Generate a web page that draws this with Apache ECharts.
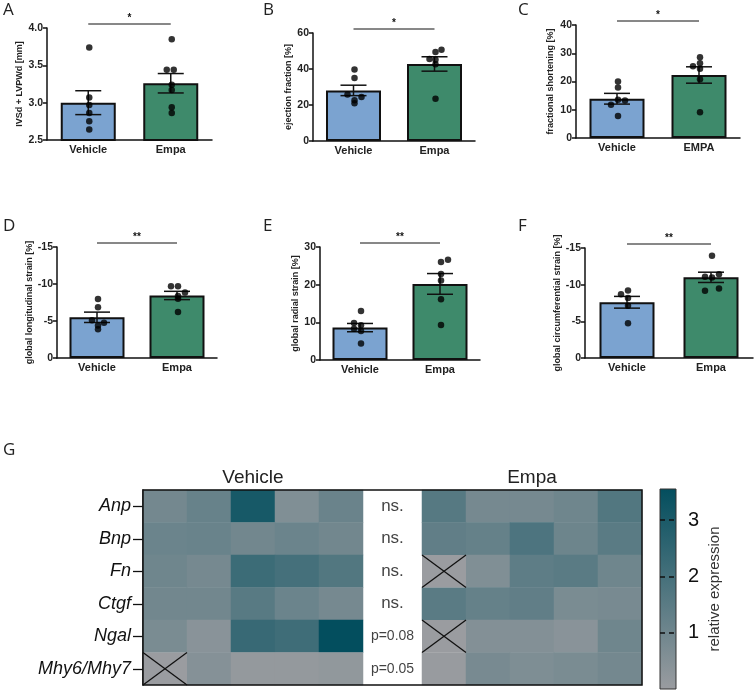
<!DOCTYPE html>
<html><head><meta charset="utf-8">
<script src="https://cdn.jsdelivr.net/npm/echarts@6/dist/echarts.min.js"></script>
<style>html,body{margin:0;padding:0;background:#fff}#c{width:756px;height:690px}</style>
</head><body><div id="c"></div>
<script>
// ---------- DATA ----------
const groups = ['Vehicle', 'Empa'];
const groupsC = ['Vehicle', 'EMPA'];

// A: IVSd + LVPWd [mm]
const aMean = [3.00, 3.26];
const aSem = [0.16, 0.13];
const aVehicle = [3.74, 3.07, 2.97, 2.86, 2.75, 2.64];
const aEmpa = [3.85, 3.44, 3.44, 3.24, 3.17, 2.94, 2.86];
// B: ejection fraction [%]
const bMean = [28.1, 42.8];
const bSem = [2.9, 4.0];
const bVehicle = [39.7, 35.0, 25.9, 24.4, 22.7, 21.0];
const bEmpa = [50.7, 49.4, 45.5, 45.1, 42.7, 23.5];
// C: fractional shortening [%]
const cMean = [13.9, 22.3];
const cSem = [1.9, 2.9];
const cVehicle = [20.0, 17.9, 13.5, 13.3, 11.8, 7.8];
const cEmpa = [28.6, 26.5, 25.4, 24.5, 20.8, 9.1];
// D: global longitudinal strain [%]
const dMean = [-5.5, -8.45];
const dSem = [0.7, 0.56];
const dVehicle = [-7.97, -6.85, -5.1, -4.75, -4.4, -3.9];
const dEmpa = [-9.7, -9.7, -8.86, -8.37, -8.0, -6.2];
// E: global radial strain [%]
const eMean = [8.6, 20.2];
const eSem = [1.1, 2.75];
const eVehicle = [13.0, 9.8, 9.2, 8.3, 7.7, 4.4];
const eEmpa = [26.6, 26.0, 22.8, 21.1, 16.1, 9.3];
// F: global circumferential strain [%]
const fMean = [-7.6, -11.0];
const fSem = [0.8, 0.7];
const fVehicle = [-9.2, -8.7, -8.18, -7.14, -4.74];
const fEmpa = [-13.96, -11.43, -11.07, -10.98, -9.49, -9.17];

const sigLabels = ['*', '*', '*', '**', '**', '**'];
const yNames = ['IVSd + LVPWd [mm]', 'ejection fraction [%]', 'fractional shortening [%]',
  'global longitudinal strain [%]', 'global radial strain [%]', 'global circumferential strain [%]'];

// G: heatmap (relative expression), null = missing sample
const genes = ['Anp', 'Bnp', 'Fn', 'Ctgf', 'Ngal', 'Mhy6/Mhy7'];
const vehicleExpr = [
  [0.9, 1.2, 3.07, 0.6, 1.13],
  [1.1, 1.15, 0.95, 1.1, 0.95],
  [1.0, 0.85, 2.2, 2.0, 1.7],
  [0.95, 0.95, 1.55, 1.1, 0.85],
  [0.75, 0.4, 2.3, 2.15, 3.55],
  [null, 0.5, 0.15, 0.15, 0.2]
];
const empaExpr = [
  [1.6, 0.85, 0.85, 1.0, 1.7],
  [1.35, 1.25, 1.8, 1.05, 1.5],
  [null, 0.6, 1.4, 1.5, 1.0],
  [1.5, 1.25, 1.35, 0.75, 0.8],
  [null, 0.55, 0.55, 0.4, 1.0],
  [0.05, 0.8, 0.65, 0.75, 0.9]
];
const pLabels = ['ns.', 'ns.', 'ns.', 'ns.', 'p=0.08', 'p=0.05'];
const colorbarTicks = [1, 2, 3];

// ---------- STYLE / LAYOUT ----------
const FONT = 'Liberation Sans';
const vehColor = '#7ba3d0';
const empColor = '#3e8a6b';
const heatLow = '#9a9ca0';
const heatHigh = '#034e5e';
const exprMax = 3.55;

const panels = [
  {mean: aMean, sem: aSem, veh: aVehicle, emp: aEmpa, cats: groups, min: 2.5, max: 4.0, interval: 0.5, inverse: false, fmt: v => v.toFixed(1),
   grid: {left: 47, top: 28, width: 165, height: 112}, nameGap: 19,
   jv: [0, 0, 0, 0, 0, 0], je: [0, -5, 2, 0, 0, 0, 0]},
  {mean: bMean, sem: bSem, veh: bVehicle, emp: bEmpa, cats: groups, min: 0, max: 60, interval: 20, inverse: false, fmt: v => v,
   grid: {left: 313, top: 33, width: 162, height: 108}, nameGap: 14,
   jv: [0, 0, -7, 7, 0, 0], je: [6, 0, -6, 0, 0, 0]},
  {mean: cMean, sem: cSem, veh: cVehicle, emp: cEmpa, cats: groupsC, min: 0, max: 40, interval: 10, inverse: false, fmt: v => v,
   grid: {left: 576, top: 25, width: 164, height: 113}, nameGap: 21,
   jv: [0, 0, 0, 7, -7, 0], je: [0, 0, -7, 0, 0, 0]},
  {mean: dMean, sem: dSem, veh: dVehicle, emp: dEmpa, cats: groups, min: -15, max: 0, interval: 5, inverse: true, fmt: v => v,
   grid: {left: 57, top: 247, width: 160, height: 111}, nameGap: 17,
   jv: [0, 0, -6, 6, 0, 0], je: [-7, 0, 7, 0, 0, 0]},
  {mean: eMean, sem: eSem, veh: eVehicle, emp: eEmpa, cats: groups, min: 0, max: 30, interval: 10, inverse: false, fmt: v => v,
   grid: {left: 320, top: 247, width: 160, height: 113}, nameGap: 15,
   jv: [0, -7, 0, -7, 0, 0], je: [7, 0, 0, 0, 0, 0]},
  {mean: fMean, sem: fSem, veh: fVehicle, emp: fEmpa, cats: groups, min: -15, max: 0, interval: 5, inverse: true, fmt: v => v,
   grid: {left: 585, top: 248, width: 168, height: 110}, nameGap: 16,
   jv: [0, -7, 0, 0, 0], je: [0, 7, -7, 0, 7, -7]}
];

const grids = [], xAxes = [], yAxes = [], series = [];

panels.forEach((p, i) => {
  grids.push(Object.assign({containLabel: false}, p.grid));
  xAxes.push({
    type: 'category', gridIndex: i, data: p.cats,
    axisLine: {lineStyle: {color: '#111', width: 1.5}},
    axisTick: {show: false},
    axisLabel: {fontFamily: FONT, fontWeight: 'bold', fontSize: 11, color: '#222', margin: 4}
  });
  yAxes.push({
    type: 'value', gridIndex: i, min: p.min, max: p.max, interval: p.interval, inverse: p.inverse,
    axisLine: {show: true, lineStyle: {color: '#111', width: 1.5}},
    axisTick: {show: true, length: 4, lineStyle: {color: '#111', width: 1.5}},
    splitLine: {show: false},
    axisLabel: {fontFamily: FONT, fontWeight: 'bold', fontSize: 10.5, color: '#222', margin: 4, formatter: p.fmt},
    name: yNames[i], nameLocation: 'middle', nameGap: p.nameGap,
    nameTextStyle: {fontFamily: FONT, fontWeight: 'bold', fontSize: 9, color: '#222'}
  });
  series.push({
    type: 'bar', xAxisIndex: i, yAxisIndex: i, barWidth: 55, silent: true,
    data: p.mean.map((m, k) => ({value: m, itemStyle: {color: k === 0 ? vehColor : empColor}})),
    itemStyle: {borderColor: '#111', borderWidth: 2}
  });
  series.push({
    type: 'custom', xAxisIndex: i, yAxisIndex: i, silent: true, z: 5,
    data: p.mean.map((m, k) => [k, m, p.sem[k]]),
    renderItem: (params, api) => {
      const x = api.value(0), m = api.value(1), s = api.value(2);
      const top = api.coord([x, m + s]), bot = api.coord([x, m - s]);
      const hw = 13, st = {stroke: '#111', lineWidth: 1.5};
      return {type: 'group', children: [
        {type: 'line', shape: {x1: top[0], y1: top[1], x2: bot[0], y2: bot[1]}, style: st},
        {type: 'line', shape: {x1: top[0] - hw, y1: top[1], x2: top[0] + hw, y2: top[1]}, style: st},
        {type: 'line', shape: {x1: bot[0] - hw, y1: bot[1], x2: bot[0] + hw, y2: bot[1]}, style: st}
      ]};
    }
  });
  const dots = [];
  p.veh.forEach((v, k) => dots.push({value: [0, v], symbolOffset: [p.jv[k] + 1, 0]}));
  p.emp.forEach((v, k) => dots.push({value: [1, v], symbolOffset: [p.je[k] + 1, 0]}));
  series.push({
    type: 'scatter', xAxisIndex: i, yAxisIndex: i, silent: true, z: 6,
    symbol: 'circle', symbolSize: 6.5, itemStyle: {color: '#000'}, data: dots
  });
});

// ---------- Heatmap G ----------
const cols = ['1', '2', '3', '4', '5'];
const hTop = 490, hHeight = 195;
const gV = grids.length;
grids.push({left: 143, top: hTop, width: 220, height: hHeight});
const gM = grids.length;
grids.push({left: 363, top: hTop, width: 59, height: hHeight});
const gE = grids.length;
grids.push({left: 422, top: hTop, width: 220, height: hHeight});
const gC = grids.length;
grids.push({left: 660, top: 489, width: 16, height: 200, show: true,
  backgroundColor: new echarts.graphic.LinearGradient(0, 0, 0, 1, [{offset: 0, color: heatHigh}, {offset: 1, color: heatLow}]),
  borderColor: '#333', borderWidth: 1});

function heatX(gi, title) {
  return {type: 'category', gridIndex: gi, data: cols, position: 'top',
    axisLine: {show: false}, axisTick: {show: false}, axisLabel: {show: false},
    name: title, nameLocation: 'middle', nameGap: 3,
    nameTextStyle: {fontFamily: FONT, fontSize: 19, color: '#222'}};
}
xAxes.push(heatX(gV, 'Vehicle'));
xAxes.push({type: 'category', gridIndex: gM, data: ['p'], show: false});
xAxes.push(heatX(gE, 'Empa'));
xAxes.push({type: 'category', gridIndex: gC, data: [''], show: false});

yAxes.push({type: 'category', gridIndex: gV, data: genes, inverse: true,
  axisLine: {show: true, lineStyle: {color: '#111', width: 1.5}},
  axisTick: {show: true, alignWithLabel: true, length: 10, lineStyle: {color: '#111', width: 1.3}},
  axisLabel: {fontFamily: FONT, fontStyle: 'italic', fontSize: 18, color: '#111', margin: 12}});
yAxes.push({type: 'category', gridIndex: gM, data: genes, inverse: true, show: false});
yAxes.push({type: 'category', gridIndex: gE, data: genes, inverse: true, show: false});
yAxes.push({type: 'value', gridIndex: gC, min: 0, max: exprMax, interval: 1, position: 'right',
  axisLine: {show: false}, axisTick: {show: false},
  axisLabel: {fontFamily: FONT, fontSize: 20, color: '#111', margin: 12,
    formatter: v => colorbarTicks.indexOf(v) >= 0 ? String(v) : ''},
  splitLine: {show: true, showMinLine: false, showMaxLine: false, lineStyle: {color: '#111', type: [5, 4], width: 1.5}},
  name: 'relative expression', nameLocation: 'middle', nameRotate: 90, nameGap: 31,
  nameTextStyle: {fontFamily: FONT, fontSize: 15, color: '#333'}});

const xIdxV = panels.length, xIdxM = xIdxV + 1, xIdxE = xIdxV + 2;

function heatData(mat) {
  const out = [];
  mat.forEach((row, r) => row.forEach((v, c) => { if (v !== null) out.push([c, r, v]); }));
  return out;
}
function missData(mat) {
  const out = [];
  mat.forEach((row, r) => row.forEach((v, c) => { if (v === null) out.push([c, r]); }));
  return out;
}
const renderX = (params, api) => {
  const c = api.coord([api.value(0), api.value(1)]);
  const s = api.size([1, 1]);
  const x0 = c[0] - s[0] / 2, y0 = c[1] - s[1] / 2;
  const st = {stroke: '#111', lineWidth: 1.3};
  return {type: 'group', children: [
    {type: 'rect', shape: {x: x0, y: y0, width: s[0], height: s[1]}, style: {fill: heatLow}},
    {type: 'line', shape: {x1: x0, y1: y0, x2: x0 + s[0], y2: y0 + s[1]}, style: st},
    {type: 'line', shape: {x1: x0 + s[0], y1: y0, x2: x0, y2: y0 + s[1]}, style: st}
  ]};
};
const heatStart = series.length;
series.push({type: 'heatmap', xAxisIndex: xIdxV, yAxisIndex: xIdxV, data: heatData(vehicleExpr), silent: true, emphasis: {disabled: true}});
series.push({type: 'heatmap', xAxisIndex: xIdxE, yAxisIndex: xIdxE, data: heatData(empaExpr), silent: true, emphasis: {disabled: true}});
series.push({type: 'custom', xAxisIndex: xIdxV, yAxisIndex: xIdxV, data: missData(vehicleExpr), renderItem: renderX, silent: true, z: 4});
series.push({type: 'custom', xAxisIndex: xIdxE, yAxisIndex: xIdxE, data: missData(empaExpr), renderItem: renderX, silent: true, z: 4});
series.push({type: 'scatter', xAxisIndex: xIdxM, yAxisIndex: xIdxM, symbolSize: 0, silent: true,
  data: pLabels.map((t, r) => ({value: [0, r], label: {fontSize: t.indexOf('p') === 0 ? 14 : 17}})),
  label: {show: true, position: 'inside', fontFamily: FONT, color: '#111',
    formatter: prm => pLabels[prm.dataIndex]}});

const option = {
  animation: false,
  backgroundColor: '#fff',
  grid: grids, xAxis: xAxes, yAxis: yAxes, series: series,
  visualMap: {show: false, min: 0, max: exprMax, seriesIndex: [heatStart, heatStart + 1],
    inRange: {color: [heatLow, heatHigh]}}
};

const chart = echarts.init(document.getElementById('c'), null, {renderer: 'canvas'});
chart.setOption(option);

// ---------- annotations ----------
const els = [];
const letters = [['A', 3, 2], ['B', 263, 2], ['C', 518, 2], ['D', 3, 218], ['E', 263, 218], ['F', 518, 218], ['G', 3, 442]];
letters.forEach(l => els.push({type: 'text', x: l[1], y: l[2],
  style: {text: l[0], font: '17px "Open Sans"', fill: '#222'}}));
panels.forEach((p, i) => {
  const topVal = p.inverse ? p.min : p.max;
  const a = chart.convertToPixel({gridIndex: i}, [p.cats[0], topVal]);
  const b = chart.convertToPixel({gridIndex: i}, [p.cats[1], topVal]);
  const y = a[1] - 4;
  els.push({type: 'line', shape: {x1: a[0], y1: y, x2: b[0], y2: y}, style: {stroke: '#111', lineWidth: 1}});
  els.push({type: 'text', x: (a[0] + b[0]) / 2, y: y - 1,
    style: {text: sigLabels[i], align: 'center', verticalAlign: 'bottom', font: 'bold 10px "Liberation Sans"', fill: '#111'}});
});
// outer frame of heatmap
const tl = chart.convertToPixel({gridIndex: gV}, [cols[0], genes[0]]);
const br = chart.convertToPixel({gridIndex: gE}, [cols[4], genes[5]]);
const cw = 22, ch = hHeight / genes.length / 2;
els.push({type: 'rect', z: 10, shape: {x: tl[0] - cw, y: tl[1] - ch, width: br[0] + cw - (tl[0] - cw), height: br[1] + ch - (tl[1] - ch)},
  style: {fill: 'none', stroke: '#111', lineWidth: 1.5}});
chart.setOption({graphic: {elements: els}});
</script></body></html>
